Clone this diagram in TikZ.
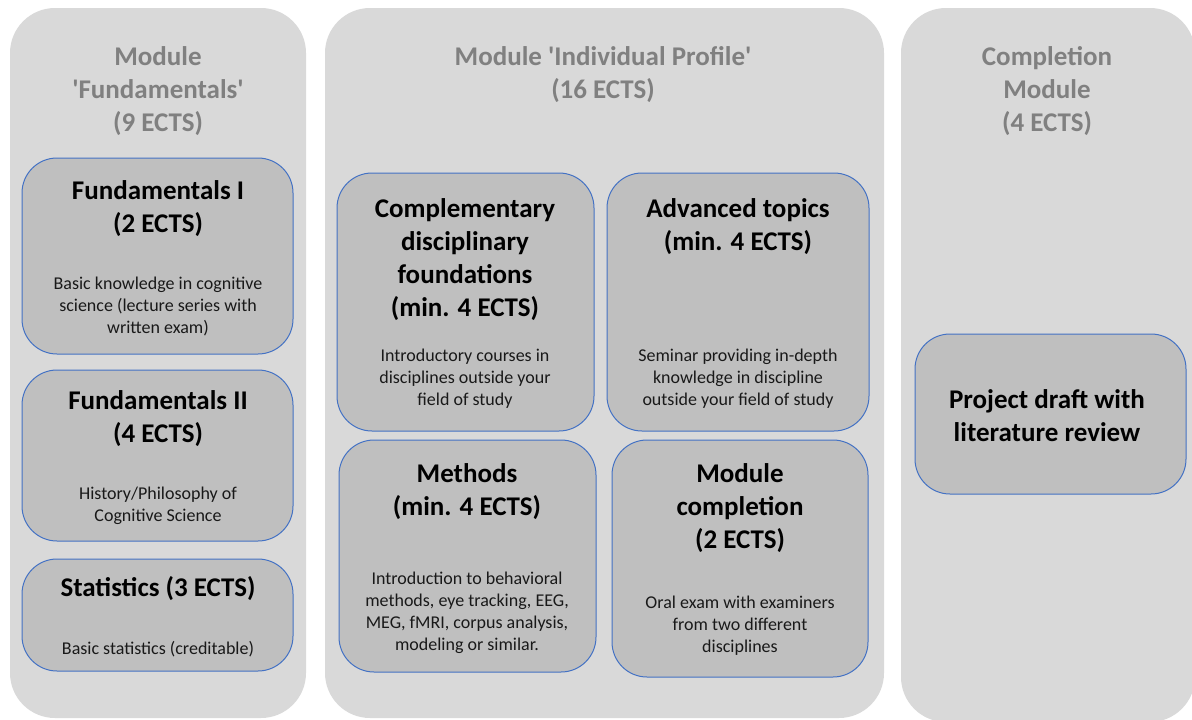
\documentclass[tikz,border=0pt]{standalone}
\usepackage{fontspec}
\setmainfont{Carlito}
\usepackage{xcolor}
\usepackage{tikz}
\usetikzlibrary{positioning}
\definecolor{moduleGray}{RGB}{217,217,217}
\definecolor{courseGray}{RGB}{191,191,191}
\definecolor{courseBlue}{RGB}{68,114,196}
\definecolor{titleGray}{RGB}{128,128,128}
\begin{document}
\begin{tikzpicture}[x=1pt,y=-1pt,
            module/.style={rectangle,rounded corners=45pt,fill=moduleGray,draw=none,inner sep=0pt},
            course/.style={rectangle,rounded corners=35pt,fill=courseGray,draw=courseBlue,
            line width=1pt,inner sep=0pt},
            module title/.style={font=\fontsize{27}{33}\selectfont\bfseries,text=titleGray,align=center},
            course title/.style={font=\fontsize{27}{33}\selectfont\bfseries,align=center},
            course text/.style={font=\fontsize{18}{22}\selectfont,align=center,text=black!90}]

            \useasboundingbox (0,0) rectangle (1192,720);

            % the three modules
            \node[module,minimum width=296pt,minimum height=710pt] (Fundamentals) at (158,363) {};
            \node[module,minimum width=559pt,minimum height=710pt] (IndividualProfile) at (604.5,363) {};
            \node[module,minimum width=294pt,minimum height=714pt] (Completion) at (1048,365) {};

            \node[module title] (FundamentalsTitle) at (158,91) {Module\\\textquotesingle Fundamentals\textquotesingle\\(9 ECTS)};
            \node[module title] (IndividualProfileTitle) at (603,74.5) {Module \textquotesingle Individual Profile\textquotesingle\\(16 ECTS)};
            \node[module title] (CompletionTitle) at (1047,91) {Completion\\Module\\(4 ECTS)};

            % courses of module 'Fundamentals'
            \node[course,minimum width=271pt,minimum height=196pt] (FundamentalsI) at (157.5,256) {};
            \node[course,minimum width=271pt,minimum height=171pt] (FundamentalsII) at (157.5,455.5) {};
            \node[course,minimum width=271pt,minimum height=112pt] (Statistics) at (157.5,615) {};

            \node[course title] (FundamentalsITitle) at (158,208.5) {Fundamentals I\\(2 ECTS)};
            \node[course text] (FundamentalsIText) at (158,306) {Basic knowledge in cognitive\\science (lecture series with\\written exam)};
            \node[course title] (FundamentalsIITitle) at (158,418.5) {Fundamentals II\\(4 ECTS)};
            \node[course text] (FundamentalsIIText) at (158,505.5) {History/Philosophy of\\Cognitive Science};
            \node[course title] (StatisticsTitle) at (158,589) {Statistics (3 ECTS)};
            \node[course text] (StatisticsText) at (158,649) {Basic statistics (creditable)};

            % courses of module 'Individual Profile'
            \node[course,minimum width=257pt,minimum height=258pt] (Complementary) at (465.5,302) {};
            \node[course,minimum width=262pt,minimum height=258pt] (Advanced) at (738,302) {};
            \node[course,minimum width=257pt,minimum height=232pt] (Methods) at (467.5,556) {};
            \node[course,minimum width=256pt,minimum height=237pt] (ModuleCompletion) at (740,558.5) {};

            \node[course title] (ComplementaryTitle) at (465,259.5) {Complementary\\disciplinary\\foundations\\(min. 4 ECTS)};
            \node[course text] (ComplementaryText) at (465,379) {Introductory courses in\\disciplines outside your\\field of study};
            \node[course title] (AdvancedTitle) at (738,226.5) {Advanced topics\\(min. 4 ECTS)};
            \node[course text] (AdvancedText) at (738,379) {Seminar providing in-depth\\knowledge in discipline\\outside your field of study};
            \node[course title] (MethodsTitle) at (467,491.5) {Methods\\(min. 4 ECTS)};
            \node[course text] (MethodsText) at (467,612.5) {Introduction to behavioral\\methods, eye tracking, EEG,\\MEG, fMRI, corpus analysis,\\modeling or similar.};
            \node[course title] (ModuleCompletionTitle) at (740,508) {Module\\completion\\(2 ECTS)};
            \node[course text] (ModuleCompletionText) at (740,626) {Oral exam with examiners\\from two different\\disciplines};

            % course of the completion module
            \node[course,minimum width=271pt,minimum height=160pt] (ProjectDraft) at (1050.5,414) {};
            \node[course title] (ProjectDraftTitle) at (1047,416) {Project draft with\\literature review};
          \end{tikzpicture}
\end{document}
